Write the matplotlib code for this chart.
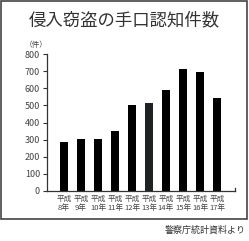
import matplotlib
matplotlib.use('Agg')
from matplotlib import pyplot as plt
from matplotlib.patches import Rectangle

plt.rcParams['font.family'] = ['Noto Sans CJK JP', 'DejaVu Sans']

years = ['平成\n8年', '平成\n9年', '平成\n10年', '平成\n11年', '平成\n12年',
         '平成\n13年', '平成\n14年', '平成\n15年', '平成\n16年', '平成\n17年']
counts = [288, 302, 306, 351, 501, 513, 591, 712, 696, 542]
bar_colors = ['#000000'] * 5 + ['#1e2222'] + ['#000000'] * 4
yticks = [0, 100, 200, 300, 400, 500, 600, 700, 800]

fig = plt.figure(figsize=(2.49, 2.41), dpi=100)

# outer frame
fig.patches.append(Rectangle((1 / 249, 1 - 219 / 241), 246 / 249, 218 / 241,
                             transform=fig.transFigure, fill=False,
                             edgecolor='#444444', linewidth=1.2))

fig.text(0.5, 1 - 20 / 241, '侵入窃盗の手口認知件数', ha='center', va='center',
         fontsize=12.5, color='#333333')
fig.text(36 / 249, 1 - 45 / 241, '（件）', ha='center', va='center',
         fontsize=5.5, color='#444444')
fig.text(246 / 249, 1 - 230 / 241, '警察庁統計資料より', ha='right', va='center',
         fontsize=6.5, color='#333333')

ax = fig.add_axes([47 / 249, 1 - 191 / 241, 188 / 249, 137 / 241])
x = list(range(len(counts)))
ax.bar(x, counts, width=0.42, color=bar_colors, edgecolor='none')

ax.set_xlim(-1, 10.06)
ax.set_ylim(0, 800)
ax.set_yticks(yticks)
ax.set_yticklabels([str(v) for v in yticks], fontsize=6.5, color='#444444')
ax.set_xticks(x)
ax.set_xticklabels(years, fontsize=5.5, color='#444444', linespacing=1.2)
ax.tick_params(axis='x', length=0, pad=3)
ax.tick_params(axis='y', length=3, width=0.8, color='#333333', pad=2)

ax.spines['top'].set_visible(False)
ax.spines['right'].set_bounds(0, 20)
for s in ['left', 'bottom', 'right']:
    ax.spines[s].set_linewidth(0.9)
    ax.spines[s].set_color('#333333')

fig.savefig('out.png', dpi=100)
